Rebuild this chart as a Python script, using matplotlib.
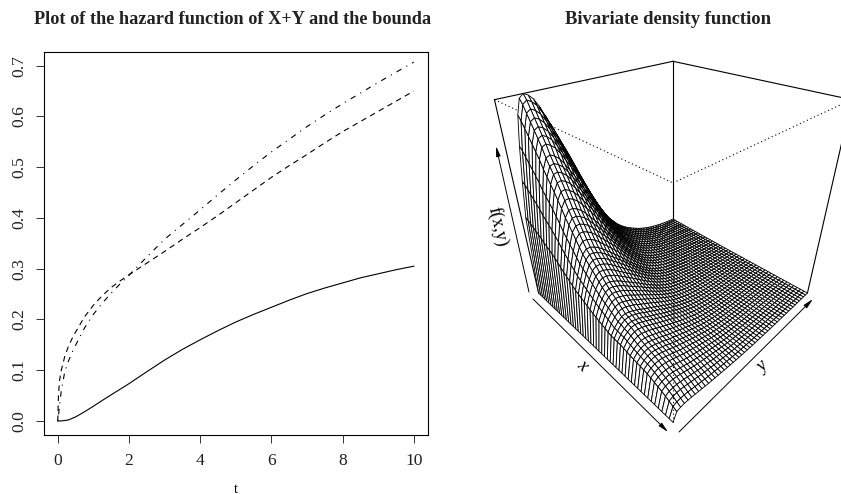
import numpy as np
import matplotlib
matplotlib.use("Agg")
import matplotlib.pyplot as plt
from mpl_toolkits.mplot3d import Axes3D

plt.rcParams["font.family"] = ["Liberation Serif", "DejaVu Serif"]

# left panel
t_vals = [0, 0.02, 0.05, 0.1, 0.2, 0.3, 0.4, 0.5, 0.75, 1, 1.25, 1.5, 1.75, 2, 2.5, 3, 3.5,
          4, 4.5, 5, 5.5, 6, 6.5, 7, 7.5, 8, 8.5, 9, 9.5, 10]
hazard = [0, 0, 0, 0.0002, 0.001, 0.002, 0.005, 0.008, 0.018, 0.029, 0.0405, 0.0515, 0.0625, 0.0735, 0.097, 0.12, 0.141,
          0.160, 0.178, 0.195, 0.210, 0.224, 0.238, 0.251, 0.262, 0.272, 0.282, 0.290, 0.298, 0.305]
bound_upper = [0, 0.05, 0.08, 0.1, 0.128, 0.147, 0.162, 0.175, 0.205, 0.228, 0.247, 0.263, 0.276, 0.288, 0.311, 0.334, 0.358,
               0.381, 0.405, 0.43, 0.455, 0.48, 0.503, 0.525, 0.548, 0.57, 0.59, 0.61, 0.63, 0.65]
bound_lower = [0, 0.01, 0.03, 0.06, 0.098, 0.118, 0.135, 0.149, 0.183, 0.21, 0.232, 0.252, 0.270, 0.287, 0.323, 0.358, 0.387,
               0.416, 0.446, 0.475, 0.503, 0.53, 0.555, 0.58, 0.603, 0.625, 0.646, 0.667, 0.687, 0.707]

x_ticks = [0, 2, 4, 6, 8, 10]
y_ticks = [0.0, 0.1, 0.2, 0.3, 0.4, 0.5, 0.6, 0.7]

# right panel, surface heights (50 x 50)
profile_back = [0, .45, .63, .79, .92, .985, 1.0, .99, .97, .935,
                .89, .845, .795, .745, .695, .64, .585, .53, .48, .43,
                .385, .345, .305, .27, .24, .215, .19, .17, .152, .136,
                .122, .11, .098, .087, .077, .068, .06, .053, .046, .04,
                .035, .03, .026, .022, .019, .016, .013, .011, .009, .008]
weight_back = [1.0, .97, .93, .89, .85, .81, .77, .72, .68, .64,
               .60, .56, .52, .48, .45, .42, .39, .36, .33, .31,
               .29, .27, .25, .23, .21, .195, .18, .165, .15, .135,
               .12, .11, .10, .09, .08, .07, .06, .052, .045, .038,
               .032, .026, .021, .016, .012, .009, .006, .004, .002, .001]
profile_front = [0, 1.0, 1.1, 1.12, 1.1, 1.05, .98, .91, .84, .77,
                 .70, .65, .6, .55, .5, .45, .41, .37, .33, .29,
                 .25, .22, .19, .165, .14, .12, .1, .085, .07, .06,
                 .05, .04, .03, .025, .02, .015, .012, .01, .008, .006,
                 .004, .003, .002, .001, 0, 0, 0, 0, 0, 0]
weight_front = [0, .008, .016, .024, .032, .04, .048, .056, .064, .072,
                .08, .085, .09, .09, .09, .09, .09, .09, .09, .09,
                .09, .09, .09, .09, .09, .09, .09, .09, .09, .09,
                .09, .095, .095, .10, .10, .10, .10, .10, .10, .10,
                .10, .098, .095, .09, .085, .08, .072, .064, .054, .045]


def draw_hazard(fig):
    # axes box in pixels: 43.5..428 / 51.7..435
    ax = fig.add_axes([43.5 / 841, (494 - 435) / 494, 384.5 / 841, 383.3 / 494])
    ax.plot(t_vals, hazard, color="black", lw=0.8, ls="-")
    ax.plot(t_vals, bound_upper, color="black", lw=0.8, ls=(0, (5, 4)))
    ax.plot(t_vals, bound_lower, color="black", lw=0.8, ls=(0, (1, 5, 5, 5)))
    ax.set_xlim(-0.4, 10.4)
    ax.set_ylim(-0.0276, 0.7276)
    ax.set_xticks(x_ticks)
    ax.set_yticks(y_ticks)
    ax.set_yticklabels(["%.1f" % v for v in y_ticks], rotation=90, va="center")
    ax.tick_params(length=6, width=0.7, labelsize=12.6, color="#333333", labelcolor="#222222")
    ax.tick_params(axis="x", pad=7)
    ax.tick_params(axis="y", pad=5.5)
    for s in ax.spines.values():
        s.set_linewidth(0.8)


def draw_density(fig):
    # 3d axes is bigger than the figure part on purpose, so nothing gets clipped
    W = 800.0
    left = 673 - 0.5135 * W
    bottom = 210 + 0.5135 * W
    ax = fig.add_axes([left / 841, (494 - bottom) / 494, W / 841, W / 494], projection="3d")
    ax.patch.set_visible(False)
    ax.set_axis_off()
    ax.computed_zorder = False
    ax.set_proj_type("persp", focal_length=0.09528)
    ax.set_box_aspect((1, 1, 1.025), zoom=0.4597)
    ax.view_init(elev=31.5, azim=-45)
    ax.set_xlim(0, 1, view_margin=0)
    ax.set_ylim(0, 1, view_margin=0)
    ax.set_zlim(0, 1, view_margin=0)

    x = np.linspace(0, 1, len(weight_back))
    y = np.linspace(0, 1, len(profile_back))
    X, Y = np.meshgrid(x, y, indexing="ij")
    Z = np.outer(weight_back, profile_back) + np.outer(weight_front, profile_front)

    # box parts behind the surface
    solid = [([0, 0], [0, 1], [1, 1]), ([0, 1], [1, 1], [1, 1]),
             ([0, 0], [1, 1], [0, 1]), ([0, 0], [0, 0], [0, 1]), ([1, 1], [1, 1], [0, 1])]
    for xs, ys, zs in solid:
        ax.plot(xs, ys, zs, color="black", lw=0.8, zorder=1)
    for xs, ys, zs in [([0, 1], [0, 0], [1, 1]), ([1, 1], [0, 1], [1, 1])]:
        ax.plot(xs, ys, zs, color="black", lw=0.8, ls=(0, (1, 2.5)), zorder=1)

    ax.plot_surface(X, Y, Z, rstride=1, cstride=1, color="white", edgecolor="black",
                    linewidth=0.62, shade=False, zorder=2)

    ax.plot([1, 1], [0, 0], [0, 1], color="black", lw=0.8, ls=(0, (1, 2.5)), zorder=3)


def draw_labels(fig):
    # overlay in pixel coordinates for titles, persp axis arrows and their names
    ov = fig.add_axes([0, 0, 1, 1], zorder=10)
    ov.set_xlim(0, 841)
    ov.set_ylim(494, 0)
    ov.set_axis_off()
    ov.patch.set_visible(False)

    ov.text(233, 19, "Plot of the hazard function of X+Y and the bounda", fontsize=13.15,
            fontweight="bold", ha="center", va="center", color="#222222")
    ov.text(668, 19, "Bivariate density function", fontsize=13.4,
            fontweight="bold", ha="center", va="center", color="#222222")
    ov.text(236, 489, "t", fontsize=10, ha="center", va="center")

    arrow = dict(arrowstyle="-|>,head_length=0.6,head_width=0.13", lw=0.7, color="black",
                 shrinkA=0, shrinkB=0, mutation_scale=10)
    ov.annotate("", xy=(668, 432), xytext=(533, 299), arrowprops=arrow)
    ov.annotate("", xy=(813, 299), xytext=(679, 432), arrowprops=arrow)
    ov.annotate("", xy=(496, 146), xytext=(529, 292), arrowprops=arrow)

    ov.text(498, 227, "f(x,y)", fontsize=13, rotation=-77, ha="center", va="center",
            rotation_mode="anchor")
    ov.text(582, 365, "x", fontsize=13, rotation=-43, ha="center", va="center",
            rotation_mode="anchor", style="italic")
    ov.text(763, 367, "y", fontsize=13, rotation=43, ha="center", va="center",
            rotation_mode="anchor", style="italic")


def main():
    fig = plt.figure(figsize=(8.41, 4.94), dpi=100)
    draw_density(fig)
    draw_hazard(fig)
    draw_labels(fig)
    fig.savefig("out.png", dpi=100)


if __name__ == "__main__":
    main()
